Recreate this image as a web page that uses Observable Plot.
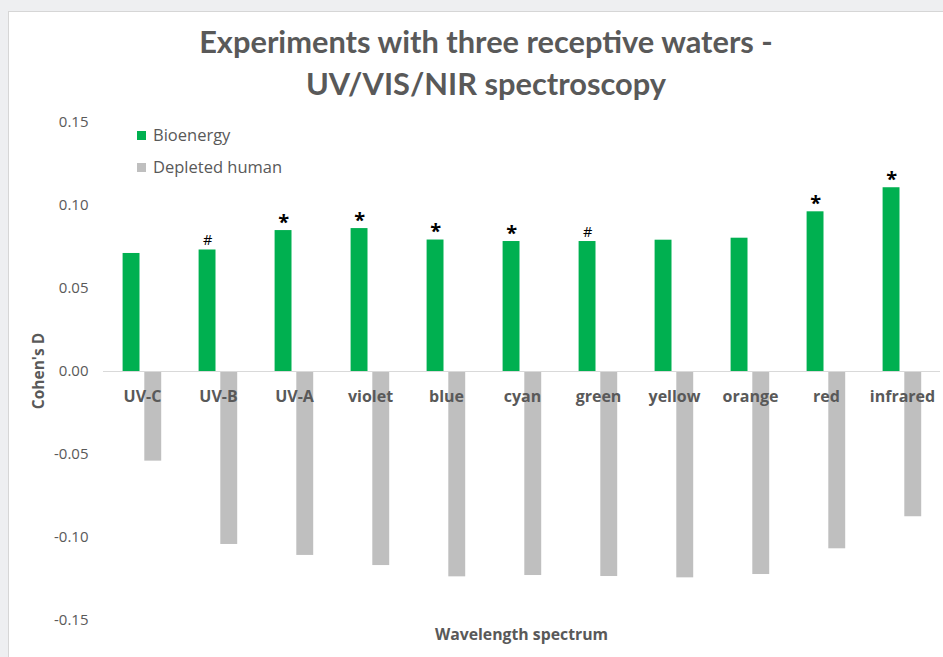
<!DOCTYPE html>
<html>
<head>
<meta charset="utf-8">
<script src="https://cdn.jsdelivr.net/npm/d3@7"></script>
<script src="https://cdn.jsdelivr.net/npm/@observablehq/plot@0.6"></script>
<style>
  html, body { margin: 0; padding: 0; width: 943px; height: 657px; overflow: hidden; background: #eeeff1; font-family: "Open Sans", sans-serif; }
  #card { position: absolute; left: 8px; top: 11px; width: 960px; height: 700px; background: #fff; border: 1px solid #d6d6d6; box-sizing: border-box; }
  #title { position: absolute; left: 0; top: 21px; width: 972px; text-align: center; font-family: Lato, "Open Sans", sans-serif; font-weight: 700; font-size: 30.8px; line-height: 42px; color: #595959; }
  #chart { position: absolute; left: 0; top: 100px; }
  .leg { position: absolute; left: 137px; font-size: 16.5px; color: #595959; line-height: 20px; }
  .leg span { display: inline-block; width: 9px; height: 9px; margin-right: 7px; vertical-align: 1px; }
  #xlabel { position: absolute; left: 0; width: 1043px; top: 623px; text-align: center; font-weight: 700; font-size: 15.8px; color: #595959; }
  #ylabel { position: absolute; left: 37.5px; top: 371px; transform: translate(-50%, -50%) rotate(-90deg); font-weight: 700; font-size: 15.5px; color: #595959; white-space: nowrap; }
</style>
</head>
<body>
<div id="card"></div>
<div id="title">Experiments with three receptive waters -<br>UV/VIS/NIR spectroscopy</div>
<div id="chart"></div>
<div class="leg" style="top:125px"><span style="background:#00b050"></span>Bioenergy</div>
<div class="leg" style="top:157px"><span style="background:#bfbfbf"></span>Depleted human</div>
<div id="xlabel">Wavelength spectrum</div>
<div id="ylabel">Cohen's D</div>
<script>
const categories = ["UV-C","UV-B","UV-A","violet","blue","cyan","green","yellow","orange","red","infrared"];
const bioenergy = [0.0711,0.0732,0.0849,0.0861,0.0792,0.0783,0.0783,0.0791,0.0803,0.0962,0.1107];
const depleted = [-0.0540,-0.1042,-0.1108,-0.1169,-0.1237,-0.1229,-0.1235,-0.1243,-0.1223,-0.1068,-0.0875];
const significance = ["","#","*","*","*","*","#","","","*","*"];
const yTicks = [-0.15,-0.10,-0.05,0,0.05,0.10,0.15];

const rows = categories.map((c, i) => ({cat: c, bio: bioenergy[i], dep: depleted[i], sig: significance[i]}));
const stars = rows.filter(d => d.sig === "*");
const hashes = rows.filter(d => d.sig === "#");

const chart = Plot.plot({
  width: 943,
  height: 557,
  marginTop: 22,
  marginBottom: 37,
  marginLeft: 103,
  marginRight: 3,
  style: {fontFamily: "'Open Sans', sans-serif", overflow: "visible", background: "transparent"},
  x: {domain: categories, padding: 0, axis: null},
  y: {domain: [-0.15, 0.15], axis: null},
  marks: [
    Plot.axisY(yTicks, {tickSize: 0, tickPadding: 15, tickFormat: d => d.toFixed(2), fontSize: 15, fill: "#595959", label: null}),
    Plot.barY(rows, {x: "cat", y: "bio", fill: "#00b050", insetLeft: 18.6, insetRight: 40.5}),
    Plot.barY(rows, {x: "cat", y: "dep", fill: "#bfbfbf", insetLeft: 40.3, insetRight: 18.8}),
    Plot.ruleY([0], {stroke: "#d9d9d9", strokeWidth: 1}),
    Plot.text(rows, {x: "cat", y: 0, text: "cat", dy: 25, fontSize: 16, fontWeight: 700, fill: "#595959"}),
    Plot.text(stars, {x: "cat", y: "bio", text: "sig", dx: -10.9, dy: -2, lineAnchor: "bottom", fontSize: 20, fontWeight: 700, fill: "#000"}),
    Plot.text(hashes, {x: "cat", y: "bio", text: "sig", dx: -10.9, dy: -5, lineAnchor: "bottom", fontSize: 14.5, fontWeight: 400, fill: "#000"})
  ]
});
document.getElementById("chart").appendChild(chart);
</script>
</body>
</html>
